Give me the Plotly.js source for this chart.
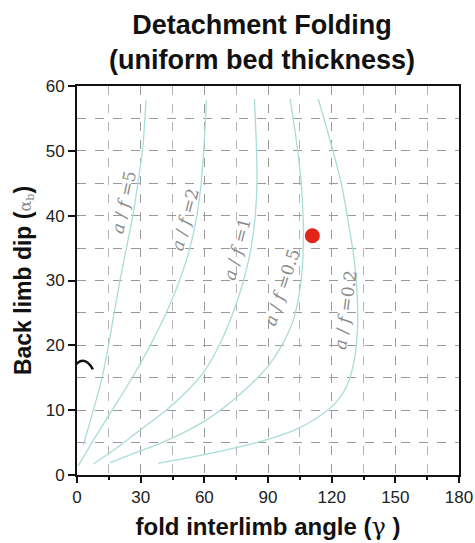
<!DOCTYPE html>
<html>
<head>
<meta charset="utf-8">
<script src="https://cdn.plot.ly/plotly-3.0.1.min.js"></script>
<style>html,body{margin:0;padding:0;background:#fff;}#chart{width:475px;height:543px;}</style>
</head>
<body>
<div id="chart"></div>
<script>
// Curves: a/f ratio contours (x = interlimb angle, y = back limb dip)
const af5_x = [3.0, 7.7, 11.6, 14.8, 17.5, 20.3, 23.4, 26.5, 28.9, 31.0, 32.5];
const af5_y = [4.6, 10.0, 14.7, 19.9, 25.0, 30.1, 35.2, 40.4, 45.5, 50.6, 57.8];

const af2_x = [0.6, 7.0, 16.5, 26.0, 34.5, 42.0, 48.3, 53.2, 56.5, 58.5, 59.7, 61.0];
const af2_y = [1.4, 5.0, 10.0, 15.0, 20.0, 25.0, 30.0, 35.0, 40.0, 45.0, 50.0, 57.8];

const af1_x = [7.7, 18.0, 30.0, 42.0, 52.0, 60.0, 67.0, 73.5, 78.5, 82.0, 84.0, 84.8, 84.6, 83.6];
const af1_y = [1.7, 4.0, 7.0, 10.0, 13.0, 16.0, 20.0, 25.0, 30.0, 35.0, 40.0, 45.0, 50.0, 58.0];

const af05_x = [15.6, 28.0, 40.0, 50.0, 61.0, 71.5, 82.0, 90.5, 96.5, 102.0, 105.6, 106.7, 105.9, 104.0, 100.4];
const af05_y = [1.9, 3.5, 5.0, 6.5, 8.5, 11.0, 14.0, 17.0, 20.0, 24.0, 30.0, 37.0, 44.0, 50.0, 58.0];

const af02_x = [38.3, 59.5, 76.0, 90.0, 103.0, 113.0, 121.5, 127.5, 130.8, 132.2, 132.0, 130.7, 128.3, 124.5, 120.6, 113.7];
const af02_y = [1.8, 3.1, 4.3, 5.5, 7.0, 8.8, 11.0, 14.0, 18.0, 23.0, 28.0, 33.0, 38.0, 45.0, 50.0, 58.0];

// Observed fold
const obs_x = [110.9];
const obs_y = [36.9];

// Curve labels
const lbl_text = ["5", "2", "1", "0.5", "0.2"];
const lbl_x = [22.1, 50.9, 75.6, 96.6, 126.3];
const lbl_y = [42.1, 39.3, 34.8, 29.0, 25.5];
const lbl_ang = [-78, -75, -75, -72, -82];

// Axis ticks
const xticks = [0, 30, 60, 90, 120, 150, 180];
const yticks = [0, 10, 20, 30, 40, 50, 60];

const curveColor = '#a9ddd9';
const curves = [[af5_x, af5_y], [af2_x, af2_y], [af1_x, af1_y], [af05_x, af05_y], [af02_x, af02_y]];
const traces = curves.map(c => ({
  x: c[0], y: c[1], mode: 'lines', type: 'scatter',
  line: {color: curveColor, width: 1.3, shape: 'spline', smoothing: 1.0},
  hoverinfo: 'skip', showlegend: false
}));
traces.push({
  x: obs_x, y: obs_y, mode: 'markers', type: 'scatter',
  marker: {color: '#e3241b', size: 15}, showlegend: false
});

const annotations = lbl_text.map((t, i) => ({
  x: lbl_x[i], y: lbl_y[i], xref: 'x', yref: 'y',
  text: '<i>a</i> / <i>f</i> =' + t, showarrow: false,
  textangle: lbl_ang[i],
  font: {family: 'DejaVu Serif, serif', size: 17, color: '#8a8a8a'}
}));
annotations.push({
  xref: 'paper', yref: 'paper', x: (262 - 77) / 382, y: 1 + 43 / 389,
  xanchor: 'center', yanchor: 'middle', showarrow: false,
  text: '<b>Detachment Folding<br>(uniform bed thickness)</b>',
  font: {family: 'Liberation Sans, Arial, sans-serif', size: 27, color: '#111'}
});

const layout = {
  width: 475, height: 543,
  margin: {l: 77, r: 16, t: 86, b: 68},
  paper_bgcolor: '#ffffff', plot_bgcolor: '#ffffff',
  font: {family: 'Liberation Sans, Arial, sans-serif', color: '#222'},
  xaxis: {
    range: [0, 180], tickvals: xticks, ticktext: xticks.map(String),
    showline: true, linecolor: '#111', linewidth: 2, mirror: true,
    ticks: 'outside', ticklen: 6, tickwidth: 2, tickcolor: '#111',
    showgrid: true, gridcolor: '#9a9a9a', griddash: 'dash', gridwidth: 1,
    minor: {dtick: 15, showgrid: true, gridcolor: '#b5b5b5', griddash: 'dash', ticks: 'outside', ticklen: 3, tickcolor: '#111'},
    zeroline: false,
    tickfont: {size: 17, color: '#222'},
    title: {
      text: '<b>fold interlimb angle (</b><span style="font-family:DejaVu Serif;font-weight:normal">γ</span><b> )</b>',
      font: {size: 24, color: '#111'}, standoff: 12
    }
  },
  yaxis: {
    range: [0, 60], tickvals: yticks, ticktext: yticks.map(String),
    showline: true, linecolor: '#111', linewidth: 2, mirror: true,
    ticks: 'outside', ticklen: 7, tickwidth: 2, tickcolor: '#111',
    showgrid: true, gridcolor: '#9a9a9a', griddash: 'dash', gridwidth: 1,
    minor: {dtick: 5, showgrid: true, gridcolor: '#9a9a9a', griddash: 'dash'},
    zeroline: false,
    tickfont: {size: 17, color: '#222'},
    title: {
      text: '<b>Back limb dip (</b><span style="font-family:DejaVu Serif;font-weight:normal;color:#888;font-size:16px">α<sub>b</sub></span><b>)</b>',
      font: {size: 23, color: '#111'}, standoff: 8
    }
  },
  shapes: [{
    type: 'path', xref: 'x', yref: 'y',
    path: 'M -2.2,16.4 Q 3,18.9 7.5,16.3',
    line: {color: '#111', width: 2.5}
  }],
  annotations: annotations,
  showlegend: false
};

Plotly.newPlot('chart', traces, layout, {staticPlot: true, displayModeBar: false});
</script>
</body>
</html>
